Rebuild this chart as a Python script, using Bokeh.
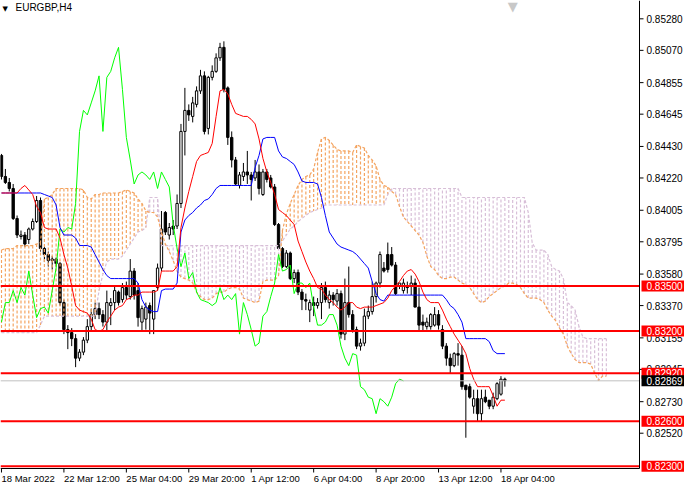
from bokeh.plotting import figure
from bokeh.models import ColumnDataSource, Range1d
from bokeh.core.properties import value
from bokeh.embed import file_html
from bokeh.resources import INLINE

# EURGBP H4 candles, oldest first
opens = [0.8437, 0.8423, 0.8419, 0.8415, 0.8395, 0.8383, 0.8384, 0.8381, 0.8388, 0.8393,
         0.8407, 0.8375, 0.8371, 0.8367, 0.8368, 0.8365, 0.8339, 0.8321, 0.8319, 0.8315,
         0.8302, 0.8306, 0.8314, 0.8323, 0.8331, 0.8335, 0.8331, 0.8326, 0.8337, 0.8339,
         0.8346, 0.8341, 0.8349, 0.8343, 0.8360, 0.8347, 0.8326, 0.8328, 0.8337, 0.8328,
         0.8349, 0.8362, 0.8399, 0.8384, 0.8390, 0.8390, 0.8405, 0.8453, 0.8467, 0.8463,
         0.8471, 0.8480, 0.8490, 0.8455, 0.8489, 0.8493, 0.8502, 0.8509, 0.8482, 0.8449,
         0.8434, 0.8417, 0.8423, 0.8426, 0.8424, 0.8422, 0.8426, 0.8411, 0.8426, 0.8422,
         0.8416, 0.8391, 0.8375, 0.8363, 0.8372, 0.8355, 0.8359, 0.8346, 0.8341, 0.8334,
         0.8339, 0.8337, 0.8339, 0.8349, 0.8339, 0.8344, 0.8340, 0.8345, 0.8318, 0.8339,
         0.8331, 0.8321, 0.8310, 0.8312, 0.8330, 0.8333, 0.8343, 0.8352, 0.8362, 0.8371,
         0.8371, 0.8364, 0.8350, 0.8347, 0.8350, 0.8350, 0.8352, 0.8336, 0.8326, 0.8323,
         0.8323, 0.8324, 0.8331, 0.8321, 0.8310, 0.8302, 0.8297, 0.8305, 0.8304, 0.8284,
         0.8283, 0.8270, 0.8275, 0.8265, 0.8276, 0.8274, 0.8270, 0.8275, 0.8278, 0.8288]
highs = [0.8438, 0.8428, 0.8422, 0.8418, 0.8397, 0.8387, 0.8386, 0.8389, 0.8395, 0.8410,
         0.8409, 0.8376, 0.8373, 0.8370, 0.8369, 0.8366, 0.8341, 0.8324, 0.8322, 0.8318,
         0.8308, 0.8316, 0.8328, 0.8335, 0.8339, 0.8339, 0.8334, 0.8347, 0.8342, 0.8350,
         0.8347, 0.8352, 0.8353, 0.8368, 0.8362, 0.8352, 0.8337, 0.8339, 0.8339, 0.8347,
         0.8365, 0.8400, 0.8400, 0.8392, 0.8394, 0.8411, 0.8458, 0.8482, 0.8471, 0.8476,
         0.8483, 0.8494, 0.8493, 0.8490, 0.8497, 0.8505, 0.8512, 0.8513, 0.8483, 0.8453,
         0.8436, 0.8426, 0.8432, 0.8440, 0.8426, 0.8434, 0.8431, 0.8428, 0.8428, 0.8424,
         0.8418, 0.8392, 0.8376, 0.8374, 0.8373, 0.8361, 0.8361, 0.8348, 0.8345, 0.8341,
         0.8343, 0.8342, 0.8352, 0.8353, 0.8347, 0.8346, 0.8348, 0.8347, 0.8355, 0.8363,
         0.8334, 0.8323, 0.8315, 0.8335, 0.8337, 0.8353, 0.8353, 0.8373, 0.8366, 0.8379,
         0.8376, 0.8366, 0.8352, 0.8355, 0.8353, 0.8357, 0.8355, 0.8349, 0.8331, 0.8329,
         0.8332, 0.8336, 0.8334, 0.8324, 0.8312, 0.8305, 0.8306, 0.8312, 0.8310, 0.8284,
         0.8285, 0.8281, 0.8281, 0.8281, 0.8281, 0.8274, 0.8279, 0.8286, 0.8290, 0.8289]
lows = [0.8421, 0.8418, 0.8413, 0.8394, 0.8382, 0.8381, 0.8376, 0.8378, 0.8387, 0.8392,
        0.8373, 0.8366, 0.8363, 0.8361, 0.8363, 0.8337, 0.8318, 0.8308, 0.8310, 0.8296,
        0.8300, 0.8304, 0.8312, 0.8320, 0.8328, 0.8328, 0.8323, 0.8320, 0.8324, 0.8334,
        0.8337, 0.8339, 0.8341, 0.8341, 0.8341, 0.8323, 0.8320, 0.8321, 0.8318, 0.8318,
        0.8347, 0.8360, 0.8384, 0.8381, 0.8384, 0.8388, 0.8402, 0.8437, 0.8460, 0.8459,
        0.8469, 0.8478, 0.8451, 0.8451, 0.8487, 0.8492, 0.8500, 0.8479, 0.8444, 0.8429,
        0.8417, 0.8415, 0.8420, 0.8418, 0.8407, 0.8420, 0.8411, 0.8410, 0.8419, 0.8415,
        0.8390, 0.8374, 0.8362, 0.8362, 0.8354, 0.8352, 0.8344, 0.8334, 0.8334, 0.8326,
        0.8330, 0.8335, 0.8328, 0.8339, 0.8335, 0.8337, 0.8337, 0.8315, 0.8314, 0.8329,
        0.8319, 0.8308, 0.8307, 0.8310, 0.8328, 0.8331, 0.8339, 0.8349, 0.8359, 0.8359,
        0.8363, 0.8344, 0.8348, 0.8345, 0.8345, 0.8344, 0.8336, 0.8320, 0.8320, 0.8321,
        0.8321, 0.8323, 0.8321, 0.8308, 0.8297, 0.8292, 0.8296, 0.8297, 0.8281, 0.8249,
        0.8275, 0.8265, 0.8260, 0.8260, 0.8272, 0.8268, 0.8268, 0.8274, 0.8277, 0.8283]
closes = [0.8423, 0.8419, 0.8415, 0.8395, 0.8384, 0.8384, 0.8378, 0.8388, 0.8393, 0.8407,
          0.8375, 0.8371, 0.8367, 0.8368, 0.8365, 0.8339, 0.8321, 0.8319, 0.8315, 0.8302,
          0.8306, 0.8314, 0.8323, 0.8331, 0.8335, 0.8331, 0.8326, 0.8339, 0.8339, 0.8347,
          0.8339, 0.8349, 0.8344, 0.8360, 0.8344, 0.8329, 0.8335, 0.8336, 0.8332, 0.8347,
          0.8362, 0.8388, 0.8386, 0.8389, 0.8388, 0.8405, 0.8453, 0.8467, 0.8464, 0.8472,
          0.8480, 0.8490, 0.8453, 0.8489, 0.8493, 0.8502, 0.8509, 0.8481, 0.8449, 0.8434,
          0.8418, 0.8424, 0.8426, 0.8424, 0.8421, 0.8426, 0.8415, 0.8426, 0.8421, 0.8416,
          0.8391, 0.8375, 0.8363, 0.8372, 0.8355, 0.8359, 0.8346, 0.8341, 0.8340, 0.8339,
          0.8337, 0.8339, 0.8349, 0.8341, 0.8344, 0.8341, 0.8345, 0.8318, 0.8339, 0.8331,
          0.8321, 0.8310, 0.8312, 0.8330, 0.8333, 0.8343, 0.8352, 0.8371, 0.8360, 0.8361,
          0.8364, 0.8345, 0.8352, 0.8352, 0.8349, 0.8352, 0.8336, 0.8324, 0.8324, 0.8326,
          0.8331, 0.8331, 0.8324, 0.8310, 0.8302, 0.8297, 0.8305, 0.8304, 0.8283, 0.8281,
          0.8276, 0.8275, 0.8265, 0.8275, 0.8273, 0.8270, 0.8276, 0.8285, 0.8288, 0.82869]

# Ichimoku lines
tenkan = [0.8412, 0.8412, 0.8412, 0.8412, 0.8412, 0.8415, 0.8417, 0.8414, 0.8411, 0.8403,
          0.8399, 0.8389, 0.8388, 0.8388, 0.8388, 0.8382, 0.8371, 0.8362, 0.8350, 0.8337,
          0.8334, 0.8333, 0.8332, 0.8328, 0.8321, 0.8320, 0.8321, 0.8326, 0.8330, 0.8334,
          0.8336, 0.8337, 0.8341, 0.8342, 0.8344, 0.8344, 0.8346, 0.8346, 0.8346, 0.8346,
          0.8347, 0.8360, 0.8360, 0.8360, 0.8360, 0.8363, 0.8389, 0.8402, 0.8413, 0.8423,
          0.8433, 0.8437, 0.8438, 0.8439, 0.8445, 0.8463, 0.8480, 0.8481, 0.8478, 0.8471,
          0.8465, 0.8464, 0.8463, 0.8463, 0.8461, 0.8458, 0.8448, 0.8435, 0.8426, 0.8419,
          0.8411, 0.8401, 0.8399, 0.8397, 0.8394, 0.8391, 0.8380, 0.8373, 0.8366, 0.8360,
          0.8355, 0.8349, 0.8348, 0.8344, 0.8341, 0.8339, 0.8336, 0.8334, 0.8336, 0.8339,
          0.8339, 0.8336, 0.8335, 0.8336, 0.8336, 0.8336, 0.8337, 0.8338, 0.8339, 0.8342,
          0.8347, 0.8350, 0.8353, 0.8357, 0.8360, 0.8361, 0.8358, 0.8353, 0.8346, 0.8341,
          0.8339, 0.8339, 0.8339, 0.8334, 0.8328, 0.8323, 0.8318, 0.8314, 0.8310, 0.8305,
          0.8295, 0.8288, 0.8283, 0.8283, 0.8283, 0.8283, 0.8277, 0.8270, 0.8274, 0.8274]
kijun = [0.8412, 0.8412, 0.8412, 0.8412, 0.8412, 0.8412, 0.8412, 0.8412, 0.8412, 0.8412,
         0.8412, 0.8411, 0.8410, 0.8409, 0.8404, 0.8389, 0.8384, 0.8384, 0.8384, 0.8382,
         0.8377, 0.8377, 0.8377, 0.8376, 0.8371, 0.8366, 0.8361, 0.8357, 0.8355, 0.8355,
         0.8355, 0.8355, 0.8355, 0.8355, 0.8355, 0.8352, 0.8341, 0.8336, 0.8334, 0.8333,
         0.8333, 0.8347, 0.8348, 0.8348, 0.8348, 0.8352, 0.8386, 0.8394, 0.8397, 0.8399,
         0.8402, 0.8404, 0.8407, 0.8408, 0.8411, 0.8415, 0.8417, 0.8417, 0.8417, 0.8417,
         0.8417, 0.8417, 0.8417, 0.8417, 0.8417, 0.8429, 0.8437, 0.8448, 0.8449, 0.8449,
         0.8449, 0.8440, 0.8436, 0.8435, 0.8433, 0.8431, 0.8426, 0.8420, 0.8419, 0.8419,
         0.8419, 0.8418, 0.8409, 0.8397, 0.8386, 0.8382, 0.8378, 0.8376, 0.8375, 0.8374,
         0.8373, 0.8371, 0.8368, 0.8365, 0.8362, 0.8353, 0.8345, 0.8341, 0.8340, 0.8344,
         0.8344, 0.8344, 0.8344, 0.8344, 0.8344, 0.8344, 0.8344, 0.8344, 0.8344, 0.8344,
         0.8344, 0.8344, 0.8344, 0.8344, 0.8341, 0.8337, 0.8335, 0.8331, 0.8326, 0.8315,
         0.8315, 0.8315, 0.8315, 0.8315, 0.8315, 0.8313, 0.8307, 0.8305, 0.8305, 0.8305]
# senkou spans, already drawn 26 bars ahead
span_a = [0.8374, 0.8375, 0.8375, 0.8375, 0.8377, 0.8377, 0.8377, 0.8377, 0.8377, 0.8378,
          0.8379, 0.8408, 0.8409, 0.8411, 0.8415, 0.8415, 0.8415, 0.8415, 0.8415, 0.8415,
          0.8415, 0.8414, 0.8409, 0.8408, 0.8411, 0.8411, 0.8412, 0.8412, 0.8412, 0.8412,
          0.8412, 0.8413, 0.8414, 0.8413, 0.8412, 0.8408, 0.8405, 0.8400, 0.8399, 0.8399,
          0.8396, 0.8386, 0.8378, 0.8373, 0.8367, 0.8360, 0.8356, 0.8355, 0.8354, 0.8352,
          0.8346, 0.8343, 0.8341, 0.8341, 0.8342, 0.8345, 0.8346, 0.8346, 0.8348, 0.8349,
          0.8349, 0.8348, 0.8342, 0.8341, 0.8340, 0.8339, 0.8340, 0.8353, 0.8354, 0.8354,
          0.8354, 0.8357, 0.8387, 0.8398, 0.8405, 0.8411, 0.8417, 0.8421, 0.8423, 0.8424,
          0.8428, 0.8439, 0.8448, 0.8449, 0.8447, 0.8444, 0.8441, 0.8440, 0.8440, 0.8440,
          0.8439, 0.8444, 0.8443, 0.8442, 0.8437, 0.8434, 0.8430, 0.8421, 0.8417, 0.8416,
          0.8413, 0.8411, 0.8403, 0.8396, 0.8393, 0.8390, 0.8387, 0.8384, 0.8379, 0.8370,
          0.8363, 0.8361, 0.8357, 0.8355, 0.8355, 0.8356, 0.8356, 0.8354, 0.8352, 0.8351,
          0.8349, 0.8345, 0.8341, 0.8339, 0.8340, 0.8343, 0.8345, 0.8347, 0.8349, 0.8350,
          0.8352, 0.8352, 0.8351, 0.8349, 0.8345, 0.8342, 0.8342, 0.8342, 0.8341, 0.8339,
          0.8334, 0.8330, 0.8327, 0.8322, 0.8318, 0.8310, 0.8305, 0.8301, 0.8299, 0.8299,
          0.8299, 0.8298, 0.8292, 0.8287, 0.8290, 0.8290]
span_b = [0.8319, 0.8319, 0.8319, 0.8319, 0.8319, 0.8319, 0.8319, 0.8319, 0.8319, 0.8319,
          0.8324, 0.8330, 0.8330, 0.8330, 0.8330, 0.8330, 0.8330, 0.8330, 0.8330, 0.8330,
          0.8330, 0.8330, 0.8330, 0.8330, 0.8330, 0.8347, 0.8358, 0.8366, 0.8368, 0.8368,
          0.8368, 0.8370, 0.8374, 0.8378, 0.8382, 0.8386, 0.8387, 0.8389, 0.8409, 0.8409,
          0.8409, 0.8377, 0.8377, 0.8377, 0.8377, 0.8377, 0.8377, 0.8377, 0.8377, 0.8377,
          0.8377, 0.8377, 0.8377, 0.8377, 0.8377, 0.8377, 0.8377, 0.8377, 0.8377, 0.8377,
          0.8377, 0.8377, 0.8377, 0.8377, 0.8377, 0.8377, 0.8377, 0.8377, 0.8377, 0.8377,
          0.8377, 0.8377, 0.8380, 0.8384, 0.8388, 0.8390, 0.8393, 0.8395, 0.8397, 0.8399,
          0.8400, 0.8401, 0.8402, 0.8404, 0.8404, 0.8404, 0.8404, 0.8404, 0.8404, 0.8404,
          0.8404, 0.8404, 0.8404, 0.8404, 0.8404, 0.8404, 0.8404, 0.8404, 0.8404, 0.8411,
          0.8415, 0.8415, 0.8415, 0.8415, 0.8415, 0.8415, 0.8415, 0.8415, 0.8415, 0.8415,
          0.8415, 0.8415, 0.8415, 0.8415, 0.8415, 0.8415, 0.8415, 0.8415, 0.8409, 0.8409,
          0.8409, 0.8409, 0.8409, 0.8409, 0.8409, 0.8409, 0.8409, 0.8409, 0.8409, 0.8409,
          0.8409, 0.8409, 0.8409, 0.8409, 0.8409, 0.8399, 0.8379, 0.8374, 0.8374, 0.8374,
          0.8371, 0.8363, 0.8361, 0.8360, 0.8355, 0.8339, 0.8337, 0.8334, 0.8323, 0.8316,
          0.8315, 0.8315, 0.8315, 0.8315, 0.8315, 0.8315]
chikou_shift = 26

levels = [0.8350, 0.8320, 0.8292, 0.8260, 0.8230]
level_labels = ["0.83500", "0.83200", "0.82920", "0.82600", "0.82300"]
bid = 0.82869
bid_label = "0.82869"

price_ticks = [0.85280, 0.85070, 0.84855, 0.84645, 0.84430, 0.84220, 0.84005,
               0.83795, 0.83580, 0.83370, 0.83155, 0.82945, 0.82730, 0.82520]
time_ticks = [0, 16, 32, 48, 64, 80, 96, 112, 128]
time_labels = ["18 Mar 2022", "22 Mar 12:00", "25 Mar 04:00", "29 Mar 20:00", "1 Apr 12:00",
               "6 Apr 04:00", "8 Apr 20:00", "13 Apr 12:00", "18 Apr 04:00"]

# layout like the MT4 window: chart area + price scale at right + time scale below
W, H = 684, 484
CHART_W, CHART_H = 639, 468
XA, XB = -0.25, 163.5            # bars visible in the chart area
Y_TOP, Y_BOT = 0.85402, 0.82285  # prices at top / bottom of chart area
DX = (XB - XA) / CHART_W          # one pixel in data units
DY = (Y_TOP - Y_BOT) / CHART_H
X_END = XA + W * DX
Y_START = Y_TOP - H * DY

FONT = value("Liberation Sans")
FS = "10px"

p = figure(width=W, height=H, x_range=Range1d(XA, X_END), y_range=Range1d(Y_START, Y_TOP),
           x_axis_location=None, y_axis_location=None,
           toolbar_location=None, output_backend="svg")
p.min_border = 0
p.grid.visible = False
p.outline_line_color = None
p.background_fill_color = "white"
p.border_fill_color = "white"

# candles
bars = list(range(len(closes)))
src = ColumnDataSource(dict(
    x=bars, h=highs, l=lows,
    top=[max(o, c) for o, c in zip(opens, closes)],
    bottom=[min(o, c) for o, c in zip(opens, closes)],
    fill=["white" if c >= o else "black" for o, c in zip(opens, closes)],
))
p.segment(x0="x", y0="h", x1="x", y1="l", source=src, line_color="black", line_width=1)
p.vbar(x="x", width=0.6, top="top", bottom="bottom", source=src,
       fill_color="fill", line_color="black", line_width=1)

# kumo: dotted histogram between the spans
SANDY, THISTLE = "#F4A460", "#D8BFD8"
cloud_x = list(range(len(span_a)))
cloud_col = [SANDY if a >= b else THISTLE for a, b in zip(span_a, span_b)]
p.segment(x0=cloud_x, y0=span_a, x1=cloud_x, y1=span_b, line_color=cloud_col,
          line_width=1.2, line_dash="3 2")
p.line(cloud_x, span_b, line_color=THISTLE, line_width=1.2, line_dash="3 2")
p.line(cloud_x, span_a, line_color=SANDY, line_width=1.2, line_dash="3 2")

# chikou = closes drawn 26 bars back
p.line(bars[:len(bars) - chikou_shift], closes[chikou_shift:], line_color="#00FF00", line_width=1)
p.line(bars, kijun, line_color="#0000FF", line_width=1)
p.line(bars, tenkan, line_color="#FF0000", line_width=1)

# bid line and horizontal levels across the chart area
p.segment(x0=[XA], x1=[XB], y0=[bid], y1=[bid], line_color="#C0C0C0", line_width=1)
p.segment(x0=[XA] * len(levels), x1=[XB] * len(levels), y0=levels, y1=levels,
          line_color="#FF0000", line_width=2)

# scale lines
p.segment(x0=[XB, XA], y0=[Y_TOP, Y_BOT], x1=[XB, XB], y1=[Y_BOT, Y_BOT],
          line_color="black", line_width=1)

# price scale: ticks + labels
p.segment(x0=[XB] * len(price_ticks), x1=[XB + 4 * DX] * len(price_ticks),
          y0=price_ticks, y1=price_ticks, line_color="black", line_width=1)
p.text(x=[XB + 7 * DX] * len(price_ticks), y=price_ticks,
       text=["%.5f" % t for t in price_ticks], text_align="left", text_baseline="middle",
       text_font=FONT, text_font_size=FS, text_color="black")

# time scale: ticks + labels starting at the tick
p.segment(x0=time_ticks, x1=time_ticks, y0=[Y_BOT] * len(time_ticks),
          y1=[Y_BOT - 4 * DY] * len(time_ticks), line_color="black", line_width=1)
p.text(x=time_ticks, y=[Y_BOT - 4 * DY] * len(time_ticks),
       text=time_labels, text_align="left", text_baseline="top",
       text_font=FONT, text_font_size="9.5px", text_color="black")

# price badges for the levels and the bid
p.quad(left=XB + 2 * DX, right=X_END, top=[lv + 5.5 * DY for lv in levels],
       bottom=[lv - 5.5 * DY for lv in levels], fill_color="#FF0000", line_color=None)
p.text(x=[XB + 7 * DX] * len(levels), y=levels, text=level_labels, text_align="left",
       text_baseline="middle", text_font=FONT, text_font_size=FS, text_color="white")
p.quad(left=XB + 2 * DX, right=X_END, top=[bid + 5.5 * DY], bottom=[bid - 5.5 * DY],
       fill_color="black", line_color=None)
p.text(x=[XB + 7 * DX], y=[bid], text=[bid_label], text_align="left",
       text_baseline="middle", text_font=FONT, text_font_size=FS, text_color="white")

# symbol title and chart shift marker
p.text(x=[XA + 2 * DX], y=[Y_TOP - 4 * DY], text=["\u25bc"], text_align="left",
       text_baseline="top", text_font=value("DejaVu Sans"), text_font_size="7px",
       text_color="black")
p.text(x=[XA + 15 * DX], y=[Y_TOP - 1 * DY], text=["EURGBP,H4"], text_align="left",
       text_baseline="top", text_font=FONT, text_font_size=FS, text_color="black")
p.text(x=[131], y=[Y_TOP + 2 * DY], text=["\u25bc"], text_align="center",
       text_baseline="top", text_font=value("DejaVu Sans"), text_font_size="13px",
       text_color="#C8C8C8")

open("out.html", "w").write(file_html(p, INLINE))
